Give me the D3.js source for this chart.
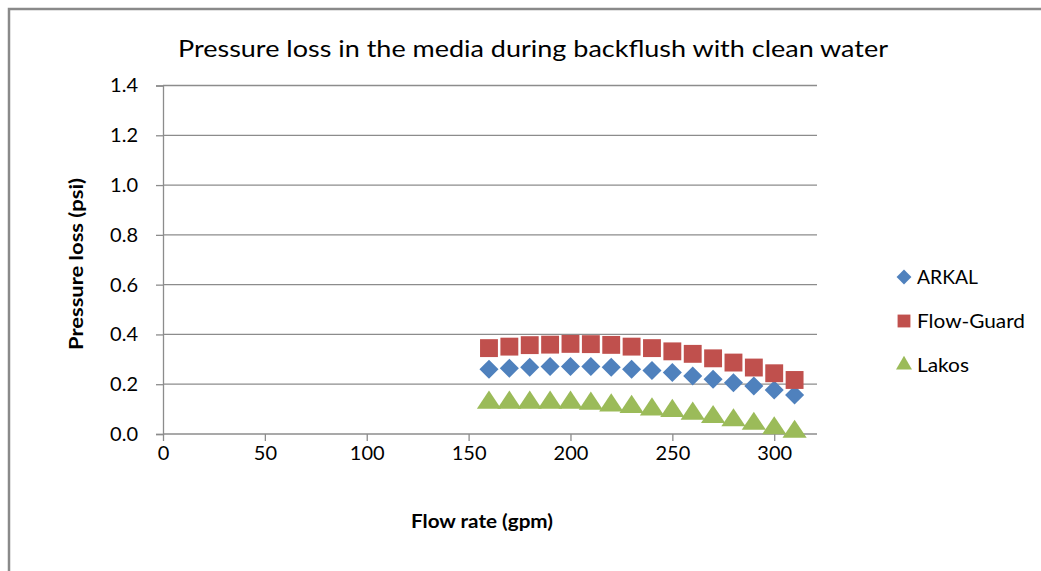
<!DOCTYPE html>
<html>
<head>
<meta charset="utf-8">
<script src="https://cdn.jsdelivr.net/npm/d3@7/dist/d3.min.js"></script>
<style>
  html, body { margin: 0; padding: 0; background: #fff; }
  svg { display: block; }
  text { font-family: Lato, "Open Sans", sans-serif; fill: #000; }
</style>
</head>
<body>
<svg id="chart" width="1041" height="571"></svg>
<script>
const flowRate = [160,170,180,190,200,210,220,230,240,250,260,270,280,290,300,310];
const arkal = [0.260,0.264,0.268,0.271,0.271,0.271,0.268,0.260,0.255,0.247,0.233,0.220,0.206,0.193,0.177,0.157];
const flowGuard = [0.345,0.351,0.357,0.359,0.362,0.361,0.358,0.351,0.345,0.332,0.322,0.304,0.287,0.267,0.244,0.217];
const lakos = [0.130,0.130,0.130,0.130,0.130,0.126,0.119,0.113,0.103,0.097,0.086,0.072,0.059,0.045,0.027,0.013];
const seriesNames = ["ARKAL", "Flow-Guard", "Lakos"];
const seriesColors = ["#4F81BD", "#C0504D", "#9BBB59"];
const xTicks = [0,50,100,150,200,250,300];
const yTicks = [0,0.2,0.4,0.6,0.8,1.0,1.2,1.4];

(function () {
const svg = d3.select("#chart");
const pLeft = 163, pRight = 817, pTop = 85.5, pBottom = 434;

// chart border
svg.append("path").attr("d", "M9,571 L9,9 L1041,9")
  .attr("fill", "none").attr("stroke", "#8a8a8a").attr("stroke-width", 2.5);

const x = d3.scaleLinear().domain([0, 321]).range([pLeft, pRight]);
const y = d3.scaleLinear().domain([0, 1.4]).range([pBottom, pTop]);

// gridlines
svg.append("g").selectAll("line").data(yTicks.filter(d => d > 0)).join("line")
  .attr("x1", pLeft).attr("x2", pRight)
  .attr("y1", d => y(d)).attr("y2", d => y(d))
  .attr("stroke", "#8c8c8c").attr("stroke-width", 1.3);

// y axis
const yAxis = svg.append("g").attr("transform", `translate(${pLeft},0)`)
  .call(d3.axisLeft(y).tickValues(yTicks).tickFormat(d3.format(".1f")).tickSize(7).tickPadding(18));
yAxis.attr("font-size", null).attr("font-family", null);
yAxis.select(".domain").attr("stroke", "#8c8c8c").attr("stroke-width", 1.3);
yAxis.selectAll(".tick line").attr("stroke", "#8c8c8c").attr("stroke-width", 1.3);
yAxis.selectAll("text").style("font-size", "20px").style("font-family", "Lato, sans-serif").attr("fill", "#000");

// x axis
const xAxis = svg.append("g").attr("transform", `translate(0,${pBottom})`)
  .call(d3.axisBottom(x).tickValues(xTicks).tickFormat(d3.format("d")).tickSize(7).tickPadding(5));
xAxis.attr("font-size", null).attr("font-family", null);
xAxis.select(".domain").attr("stroke", "#8c8c8c").attr("stroke-width", 1.3).attr("d", `M${pLeft},0H${pRight}`);
xAxis.selectAll(".tick line").attr("stroke", "#8c8c8c").attr("stroke-width", 1.3);
xAxis.selectAll("text").style("font-size", "20px").style("font-family", "Lato, sans-serif").attr("fill", "#000");

// title & axis labels
svg.append("text").attr("x", 533).attr("y", 57).attr("text-anchor", "middle")
  .style("font-size", "23px").attr("textLength", 710).attr("lengthAdjust", "spacingAndGlyphs")
  .text("Pressure loss in the media during backflush with clean water");
svg.append("text").attr("x", 482).attr("y", 528).attr("text-anchor", "middle")
  .style("font-size", "19px").attr("font-weight", "bold").attr("textLength", 142).attr("lengthAdjust", "spacingAndGlyphs")
  .text("Flow rate (gpm)");
svg.append("text").attr("transform", "translate(83,264) rotate(-90)").attr("text-anchor", "middle")
  .style("font-size", "19px").attr("font-weight", "bold").attr("textLength", 172).attr("lengthAdjust", "spacingAndGlyphs")
  .text("Pressure loss (psi)");

// markers
const sym = [d3.symbolSquare, d3.symbolSquare, d3.symbolTriangle];
const sizes = [182, 320, 210];
const data = [arkal, flowGuard, lakos];
data.forEach((vals, i) => {
  const g = svg.append("g");
  g.selectAll("path").data(vals).join("path")
    .attr("d", d3.symbol().type(sym[i]).size(sizes[i]))
    .attr("transform", (d, j) => {
      const dx = x(flowRate[j]), dy = y(d);
      if (i === 0) return `translate(${dx},${dy}) rotate(45)`;
      if (i === 2) return `translate(${dx},${dy + 1}) scale(1.1,0.95)`;
      return `translate(${dx},${dy})`;
    })
    .attr("fill", seriesColors[i]);
});

// legend
const legY = [277, 321, 365];
const legSizes = [110, 165, 110];
const legLen = [61, 108, 52];
seriesNames.forEach((n, i) => {
  svg.append("path").attr("d", d3.symbol().type(sym[i]).size(legSizes[i]))
    .attr("transform", `translate(904,${legY[i]})` + (i === 0 ? " rotate(45)" : ""))
    .attr("fill", seriesColors[i]);
  svg.append("text").attr("x", 917).attr("y", legY[i] + 7).style("font-size", "20px")
    .attr("textLength", legLen[i]).attr("lengthAdjust", "spacingAndGlyphs").text(n);
});
})();
</script>
</body>
</html>
